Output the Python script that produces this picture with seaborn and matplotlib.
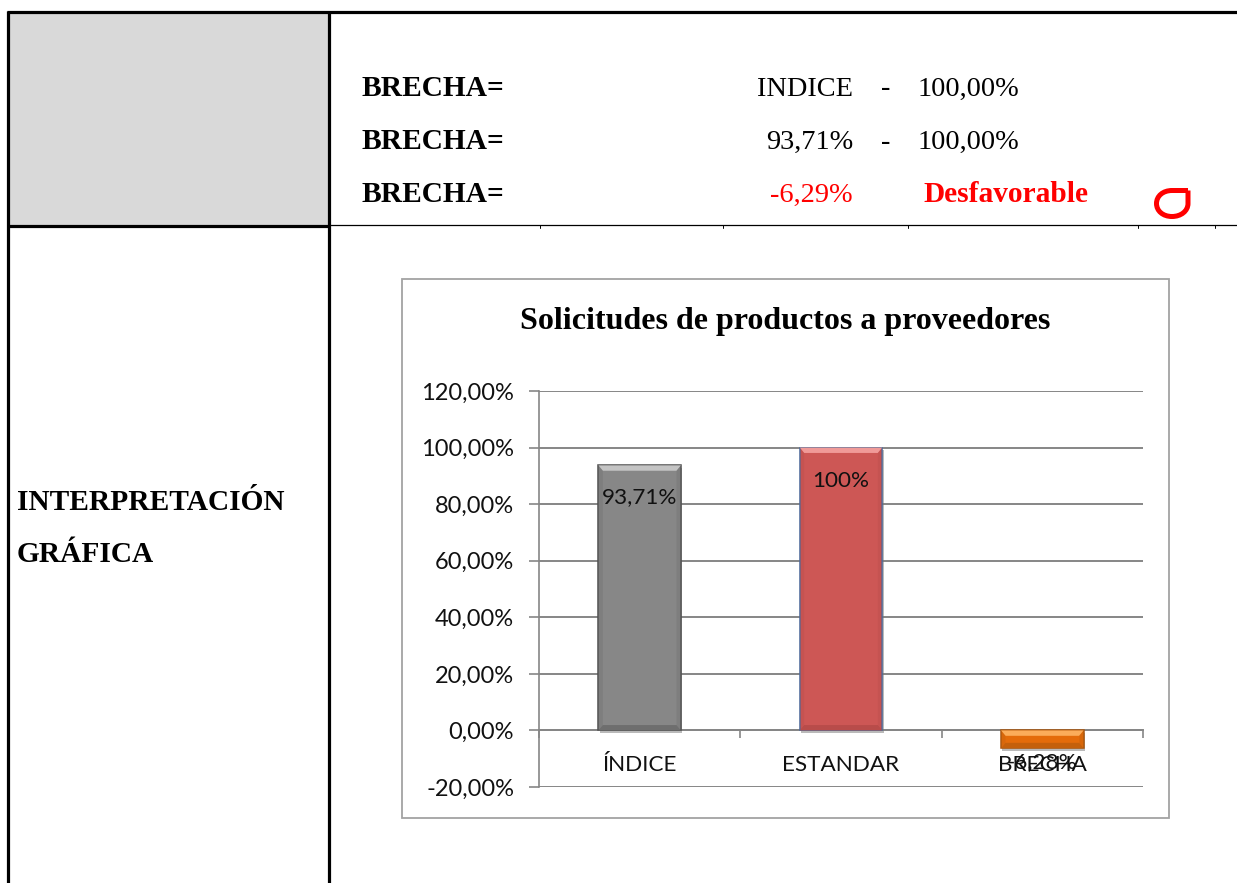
import matplotlib
matplotlib.use("Agg")
from matplotlib import pyplot as plt
from matplotlib.path import Path
from matplotlib.patches import PathPatch, Rectangle
import matplotlib.patheffects as pe
import seaborn as sns
import pandas as pd

# chart data
categorias = ["ÍNDICE", "ESTANDAR", "BRECHA"]
valores = [93.71, 100.0, -6.28]
etiquetas = ["93,71%", "100%", "-6,28%"]
colores = ["#878787", "#cd5755", "#e46c0a"]
bordes = ["#4f4f4f", "#3f6ea6", "#a9560f"]
claros = ["#c4c4c4", "#f09a98", "#fbad5a"]
oscuros = ["#6e6e6e", "#b84c4a", "#c4600b"]
marcas_y = [-20, 0, 20, 40, 60, 80, 100, 120]
textos_y = ["-20,00%", "0,00%", "20,00%", "40,00%", "60,00%", "80,00%", "100,00%", "120,00%"]

sns.set_theme(style="white")
SERIF = "Liberation Serif"
SANS = "Lato"
W, H = 1237, 883
fig = plt.figure(figsize=(W / 100, H / 100), dpi=100)

# page layer in pixel coordinates
page = fig.add_axes([0, 0, 1, 1])
page.set_xlim(0, W)
page.set_ylim(H, 0)
page.axis("off")
page.add_patch(Rectangle((8, 12), 321, 214, color="#d9d9d9", lw=0))
page.add_patch(Rectangle((402, 279), 767, 539, fc="white", ec="#a3a3a3", lw=1.3))

negro = "black"
page.plot([8, 8], [11, 883], color=negro, lw=2.3, solid_capstyle="butt")
page.plot([329, 329], [11, 883], color=negro, lw=2.3, solid_capstyle="butt")
page.plot([7, 1237], [12, 12], color=negro, lw=2.3, solid_capstyle="butt")
page.plot([7, 329], [226, 226], color=negro, lw=2.3, solid_capstyle="butt")
page.plot([329, 1237], [225, 225], color=negro, lw=0.9, solid_capstyle="butt")
for x in [540, 723, 908, 1138, 1215]:
    page.plot([x, x], [225, 227.5], color=negro, lw=0.7)


def txt(x, y, s, color=negro, bold=False, ha="left", size=None):
    if size is None:
        size = 21.2 if bold else 20.4
    page.text(x, y, s, color=color, family=SERIF, fontsize=size,
              fontweight="bold" if bold else "normal", ha=ha, va="baseline")


rojo = "#ff0000"
txt(362, 96, "BRECHA=", bold=True)
txt(362, 149, "BRECHA=", bold=True)
txt(362, 202, "BRECHA=", bold=True)
txt(757, 95.5, "INDICE")
txt(881, 95.5, "-")
txt(918, 95.5, "100,00%")
txt(766, 148.5, "93,71%")
txt(881, 148.5, "-")
txt(918, 148.5, "100,00%")
txt(770, 201.5, "-6,29%", color=rojo)
txt(923, 202, "Desfavorable", color=rojo, bold=True)
txt(17, 510, "INTERPRETACIÓN", bold=True)
txt(17, 562, "GRÁFICA", bold=True)

# red mark next to the result
forma = Path([(1188, 190.5), (1172, 190.5), (1163, 190.5), (1156.5, 196), (1156.5, 203.5),
              (1156.5, 211), (1163, 216.5), (1172, 216.5), (1181, 216.5), (1188, 211),
              (1188, 203.5), (1188, 190.5)],
             [Path.MOVETO, Path.LINETO, Path.CURVE4, Path.CURVE4, Path.CURVE4,
              Path.CURVE4, Path.CURVE4, Path.CURVE4, Path.CURVE4, Path.CURVE4,
              Path.CURVE4, Path.LINETO])
page.add_patch(PathPatch(forma, fc="none", ec=rojo, lw=3.6, joinstyle="round"))

# chart layer
ax = fig.add_axes([539 / W, (H - 787) / H, 604 / W, 396 / H])
ax.patch.set_alpha(0)
datos = pd.DataFrame({"categoria": categorias, "valor": valores})
sns.barplot(data=datos, x="categoria", y="valor", hue="categoria", palette=colores,
            order=categorias, hue_order=categorias, width=0.41, saturation=1,
            legend=False, ax=ax, zorder=3)
ax.set_xlim(-0.5, 2.5)
ax.set_ylim(-20, 120)
ax.set_xlabel("")
ax.set_ylabel("")
ax.set_title("")

gris = "#868686"
ax.set_yticks(marcas_y, textos_y)
ax.yaxis.grid(True, color=gris, lw=1.4, zorder=0)
ax.set_axisbelow(True)
for lado in ["top", "right"]:
    ax.spines[lado].set_visible(False)
ax.spines["left"].set_color(gris)
ax.spines["left"].set_linewidth(1.2)
ax.spines["bottom"].set_color(gris)
ax.spines["bottom"].set_linewidth(1.4)
ax.spines["bottom"].set_position(("data", 0))
ax.set_xticks(range(len(categorias)), categorias)
ax.set_xticks([-0.5, 0.5, 1.5, 2.5], minor=True)
ax.tick_params(axis="x", which="major", length=0, pad=18, labelsize=16.2,
               labelcolor="#111111", labelfontfamily=SANS)
ax.tick_params(axis="x", which="minor", length=6, width=1.2, color=gris,
               direction="out", bottom=True)
ax.tick_params(axis="y", length=7, width=1.2, color=gris, left=True, pad=11,
               labelsize=17, labelcolor="#111111", labelfontfamily=SANS)

# bevel and shadow built from the bars themselves
paddings = [-30, -31, 3]
for i, cont in enumerate(ax.containers):
    barra = cont[0]
    barra.set_edgecolor(bordes[i])
    barra.set_linewidth(1.1)
    barra.set_path_effects([pe.SimplePatchShadow(offset=(1, -2), shadow_rgbFace="#777777", alpha=0.5),
                            pe.Normal()])
    x0, ancho = barra.get_x(), barra.get_width()
    y0, alto = barra.get_y(), barra.get_height()
    arriba = max(y0, y0 + alto)
    abajo = min(y0, y0 + alto)
    dx, dy = 0.022, 1.9
    ax.fill([x0, x0 + ancho, x0 + ancho - dx, x0 + dx],
            [arriba, arriba, arriba - dy, arriba - dy], color=claros[i], lw=0, zorder=4)
    ax.fill([x0, x0 + ancho, x0 + ancho - dx, x0 + dx],
            [abajo, abajo, abajo + dy, abajo + dy], color=oscuros[i], lw=0, zorder=4)
    ax.fill([x0, x0 + dx, x0 + dx, x0],
            [arriba, arriba - dy, abajo + dy, abajo], color=oscuros[i], lw=0, alpha=0.35, zorder=4)
    ax.fill([x0 + ancho, x0 + ancho - dx, x0 + ancho - dx, x0 + ancho],
            [arriba, arriba - dy, abajo + dy, abajo], color=oscuros[i], lw=0, alpha=0.35, zorder=4)
    ax.bar_label(cont, labels=[etiquetas[i]], padding=paddings[i], fontsize=16.2,
                 color="#111111", family=SANS, zorder=6)

# chart title sits on the frame
page.text(785.5, 329, "Solicitudes de productos a proveedores", family=SERIF, fontsize=23,
          fontweight="bold", ha="center", va="baseline", color=negro)

fig.savefig("out.png", dpi=100)
